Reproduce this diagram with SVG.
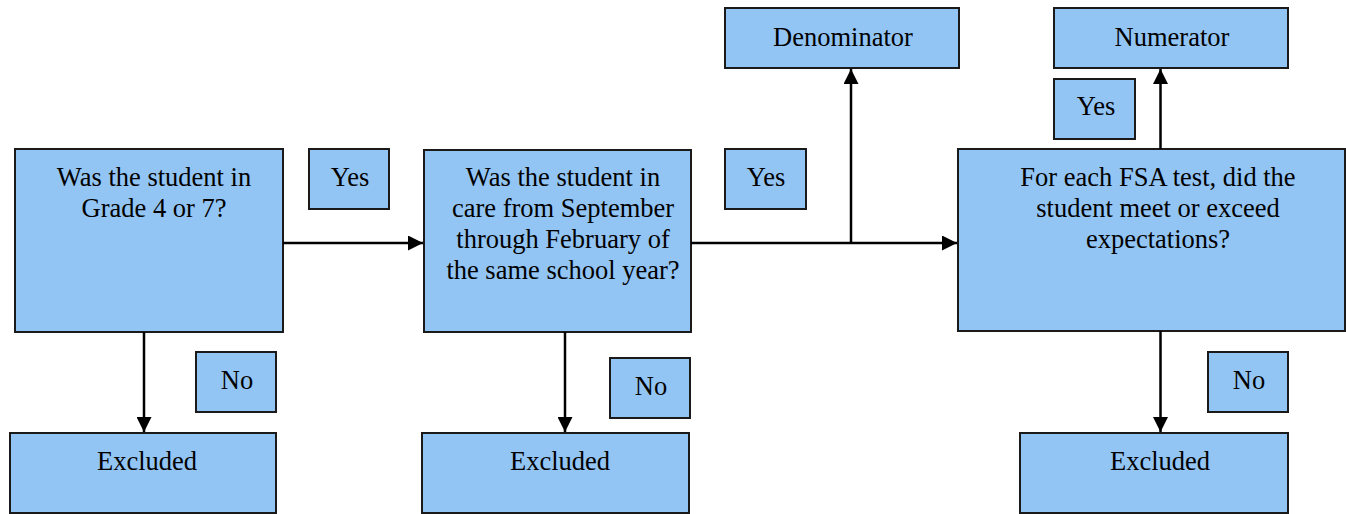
<svg xmlns="http://www.w3.org/2000/svg" width="1346" height="514" viewBox="0 0 1346 514">
<style>
.b{fill:#93c5f4;stroke:#1a1a1a;stroke-width:2}
.t{font-family:"Liberation Serif","Times New Roman",serif;font-size:26.5px;fill:#000;text-anchor:middle}
.c{stroke:#000;stroke-width:2.5;fill:none}
</style>
<defs>
<marker id="ah" viewBox="0 0 10 10" refX="10" refY="5" markerWidth="6" markerHeight="6" markerUnits="strokeWidth" orient="auto">
<path d="M0,0 L10,5 L0,10 z" fill="#000"/>
</marker>
</defs>
<g id="q1"><rect class="b" x="15" y="149" width="268" height="183"/>
<text class="t" x="154" y="186">Was the student in</text><text class="t" x="154" y="217">Grade 4 or 7?</text></g>
<g id="yes1"><rect class="b" x="309" y="149" width="80" height="60"/><text class="t" x="350" y="186">Yes</text></g>
<g id="q2"><rect class="b" x="424" y="150" width="267" height="182"/>
<text class="t" x="563" y="186">Was the student in</text><text class="t" x="563" y="217">care from September</text><text class="t" x="563" y="248">through February of</text><text class="t" x="563" y="279">the same school year?</text></g>
<g id="yes2"><rect class="b" x="725" y="149" width="81" height="60"/><text class="t" x="766" y="186">Yes</text></g>
<g id="den"><rect class="b" x="725" y="8" width="234" height="60"/><text class="t" x="843" y="46">Denominator</text></g>
<g id="q3"><rect class="b" x="958" y="149" width="387" height="182"/>
<text class="t" x="1158" y="186">For each FSA test, did the</text><text class="t" x="1158" y="217">student meet or exceed</text><text class="t" x="1158" y="248">expectations?</text></g>
<g id="num"><rect class="b" x="1054" y="8" width="234" height="60"/><text class="t" x="1172" y="46">Numerator</text></g>
<g id="yes3"><rect class="b" x="1054" y="79" width="81" height="60"/><text class="t" x="1096" y="115">Yes</text></g>
<g id="no1"><rect class="b" x="196" y="352" width="80" height="60"/><text class="t" x="237" y="389">No</text></g>
<g id="no2"><rect class="b" x="610" y="358" width="80" height="60"/><text class="t" x="651" y="395">No</text></g>
<g id="no3"><rect class="b" x="1208" y="352" width="80" height="60"/><text class="t" x="1249" y="389">No</text></g>
<g id="ex1"><rect class="b" x="10" y="433" width="266" height="80"/><text class="t" x="147" y="470">Excluded</text></g>
<g id="ex2"><rect class="b" x="422" y="433" width="267" height="80"/><text class="t" x="560" y="470">Excluded</text></g>
<g id="ex3"><rect class="b" x="1020" y="433" width="268" height="80"/><text class="t" x="1160" y="470">Excluded</text></g>
<g id="connectors">
<path class="c" d="M283,243 H423" marker-end="url(#ah)"/>
<path class="c" d="M691,243 H957" marker-end="url(#ah)"/>
<path class="c" d="M851,243 V69" marker-end="url(#ah)"/>
<path class="c" d="M1160.5,149 V69" marker-end="url(#ah)"/>
<path class="c" d="M144,332 V432" marker-end="url(#ah)"/>
<path class="c" d="M565,332 V432" marker-end="url(#ah)"/>
<path class="c" d="M1160.5,331 V432" marker-end="url(#ah)"/>
</g>
</svg>
